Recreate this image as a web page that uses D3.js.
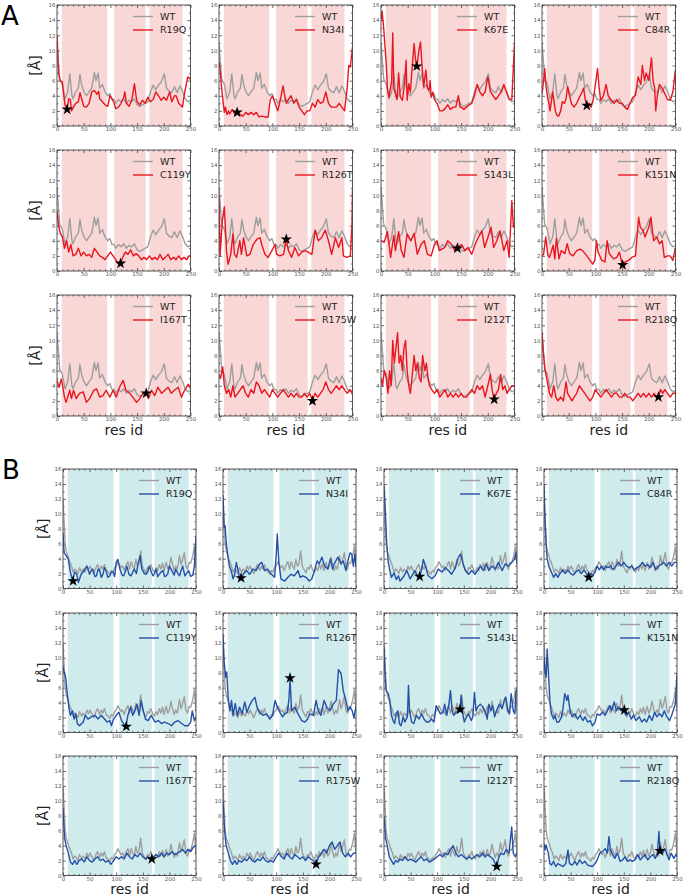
<!DOCTYPE html>
<html>
<head>
<meta charset="utf-8">
<script src="https://cdn.jsdelivr.net/npm/d3@7"></script>
<style>
  body { margin: 0; background: #fff; }
  text { font-family: "DejaVu Sans", sans-serif; }
</style>
</head>
<body>
<div id="fig"></div>
<script>
// mutants shown in each small panel, in reading order
const mutants = ["R19Q", "N34I", "K67E", "C84R", "C119Y", "R126T", "S143L", "K151N", "I167T", "R175W", "I212T", "R218Q"];
const starRes = [19, 34, 67, 84, 119, 126, 143, 151, 167, 175, 212, 218];
const starA = [2.2, 1.8, 7.9, 2.7, 1.0, 4.2, 3.0, 0.8, 3.0, 2.0, 2.2, 2.5];
const starB = [1.0, 1.4, 1.6, 1.5, 0.8, 7.3, 3.1, 3.0, 2.2, 1.5, 1.2, 3.3];

const xTicks = [0, 50, 100, 150, 200, 250];
const yTicks = [0, 2, 4, 6, 8, 10, 12, 14, 16];
const shadeA = [[9, 94], [107, 166], [173, 235]];
const shadeB = [[9, 95], [106, 167], [172, 236]];

// [res id, distance] pairs
const wtA = [[0,11],[5,6.2],[10,5.5],[15,3.6],[20,4.5],[24,6.9],[28,4],[30,3.6],[35,4.5],[40,5],[43,6.8],[46,5.5],[50,4.6],[55,4],[60,4.5],[65,5],[70,7.1],[73,6],[77,7],[80,5],[85,5.5],[90,4.5],[95,4],[99,4.3],[103,3.5],[107,3.5],[110,3],[115,3.5],[120,3.2],[125,3.6],[130,3],[135,3.4],[140,3.2],[145,3.6],[150,2.8],[155,2.6],[160,2.8],[165,3],[170,3.2],[175,4.5],[180,5.4],[185,4.8],[190,5.4],[195,5.8],[201,6.9],[205,5],[210,4.6],[215,4.4],[220,5.2],[225,4.4],[230,5.3],[235,4.6],[240,3.6],[245,3.2],[250,3.4]];

const wtB = [[0,12],[2,9],[4,6],[6,5],[9,4.4],[12,3.7],[16,3],[19,2.2],[22,2.6],[25,2.4],[28,2],[31,2.8],[35,2.2],[38,2.6],[42,2.2],[45,3],[48,2.5],[51,3],[55,2.4],[58,2],[62,2.8],[65,3.2],[69,2.4],[72,3],[75,2.6],[78,3.2],[81,2.4],[85,2.2],[88,1.9],[91,2.4],[94,2.2],[97,2.8],[100,3],[103,3.6],[106,3.2],[109,2.8],[112,3],[115,2.4],[119,3.2],[122,3.6],[125,2.6],[128,3.6],[131,3],[134,2.6],[137,3.9],[140,3],[143,3.4],[146,5],[149,3],[152,2.6],[156,2.1],[159,2.8],[162,2.6],[165,3.2],[169,2.4],[172,2.2],[175,2.8],[178,2.4],[181,3.2],[184,2.6],[187,3.4],[190,2.4],[194,3.5],[197,2.6],[200,3],[203,4.2],[206,3.2],[209,2.4],[212,3],[215,2.6],[219,4.4],[222,3.2],[225,3.9],[228,4.8],[231,3],[234,2.6],[237,3.5],[240,3.4],[244,4.4],[247,5.7],[250,3]];

// panel A mutants (red)
const redR19Q = [[0,12],[3,7],[6,6],[10,5.8],[12,4.5],[15,2.8],[19,2.3],[22,3.6],[25,3.5],[27,2],[30,2.4],[35,3],[40,3.2],[43,4.4],[47,3.4],[50,2.6],[55,2.5],[60,3],[65,4.5],[70,4.7],[75,4.2],[78,4.6],[80,3.6],[85,3.2],[90,2.8],[95,2.6],[99,4],[103,3.6],[107,3],[110,2.3],[115,2.5],[120,3],[125,3.8],[127,4.5],[130,3],[135,2.6],[140,3.4],[145,5.6],[148,4],[150,3.2],[155,2.8],[160,3.4],[165,3],[170,3.8],[175,3.2],[180,3.5],[185,4.5],[190,4],[195,3.4],[200,3.8],[205,3.4],[211,4.5],[215,3.2],[220,4],[223,4],[228,3],[235,2.5],[238,4],[242,5.5],[245,6.5],[250,6.2]];
const redN34I = [[0,8.5],[2,7.5],[5,5],[8,3],[10,1.8],[12,2.5],[15,1.5],[18,2],[20,1.6],[25,2.2],[30,1.5],[34,1.8],[40,1.5],[45,1.3],[50,1.8],[55,1.5],[60,1.8],[65,1.5],[70,1.8],[75,1.2],[80,1.3],[85,1.2],[92,1.2],[96,3.5],[100,4],[105,3],[110,2],[115,3.5],[120,5.3],[123,4],[126,3],[130,3.5],[135,4],[140,3],[145,3.5],[150,2.5],[155,2],[160,1.5],[165,2],[170,2],[175,3],[180,2.5],[185,3.5],[190,3],[195,3.2],[200,4.5],[205,3],[210,2.5],[215,2.5],[220,2.5],[225,3],[230,2.5],[235,2],[240,5],[243,8],[246,7.8],[250,10.5]];
const redK67E = [[0,14],[2,15.2],[5,13],[8,10],[10,8],[12,5],[15,3.8],[17,4.7],[20,6],[22,12.3],[24,5],[27,4.3],[30,3.5],[33,7],[36,3.9],[40,3.4],[43,5],[45,6.5],[47,8.7],[49,3.4],[52,5.6],[55,4.5],[58,7.4],[62,10.9],[65,8.5],[67,7.8],[71,10],[74,11.1],[77,7.8],[80,5.2],[84,7.4],[87,5],[90,4.7],[92,6],[94,3.8],[97,4.5],[100,3.5],[105,3],[110,2],[115,2],[120,2.3],[125,2.8],[130,2.2],[135,2.5],[140,2.5],[145,4],[148,2.5],[150,2.5],[155,2.2],[160,2.5],[165,2.8],[170,3],[175,4],[180,5.5],[185,4.5],[190,4],[195,4.5],[200,6.5],[205,4.5],[210,4],[215,3.5],[220,4],[225,4.5],[230,5.5],[235,4.5],[240,3.5],[245,3.5],[248,8],[250,11]];
const redC84R = [[0,4.2],[3,6],[5,7.6],[8,5],[10,4],[13,3],[15,2],[18,3.5],[20,4.5],[23,3],[25,2],[28,1.4],[31,1.3],[35,2],[38,3.2],[42,3],[45,3.6],[48,5.2],[50,4.5],[55,3],[60,2.5],[65,3],[70,3.8],[75,4.5],[78,5],[81,3.5],[84,2.7],[88,3],[92,2.5],[96,3.5],[100,5.5],[104,7.6],[107,5],[110,3.4],[115,4],[120,5.5],[124,4],[130,3.4],[135,3],[140,3.5],[145,3],[150,3],[155,2.5],[160,2.2],[165,3],[170,3.8],[175,4],[180,6.5],[185,5.5],[188,8],[192,6],[195,7],[200,6],[205,9],[208,6],[211,5],[213,2],[216,4],[220,5.5],[225,5],[230,4.3],[235,3.5],[240,3.4],[245,4.5],[250,7.5]];
const redC119Y = [[0,8],[3,6],[6,5],[10,4.5],[14,3],[18,4],[22,2.5],[26,3.5],[30,2],[35,2.2],[40,3],[45,2],[50,2.5],[55,2],[60,2.2],[65,1.8],[70,3],[75,2.5],[80,2],[85,1.8],[90,1.5],[95,2],[100,2.5],[105,2],[110,1.5],[114,1],[119,1],[123,1.8],[128,2.5],[133,2.2],[138,2.8],[143,2],[148,2.3],[153,2],[158,1.5],[163,1.8],[168,1.5],[173,2],[178,1.5],[183,1.8],[188,1.5],[193,2.2],[198,1.5],[203,1.8],[208,2.2],[213,1.5],[218,1.8],[223,1.5],[228,2],[233,1.5],[238,1.8],[243,1.5],[247,2],[250,2]];
const redR126T = [[0,10],[2,2],[6,6.5],[10,8.5],[14,2.7],[17,0.9],[22,2.2],[26,4.9],[29,2.2],[33,1.8],[39,4],[42,2.2],[46,4.4],[52,2],[58,2.2],[64,3.5],[71,4.2],[77,4.4],[80,3.5],[86,2.2],[92,1.8],[99,2.7],[105,3.5],[108,2.2],[114,2],[121,2.2],[126,4.2],[130,2.7],[136,1.8],[142,3.1],[149,2],[155,2.5],[161,2.7],[167,2.5],[174,2.2],[180,5.4],[186,4],[192,4.4],[199,5.4],[205,4],[211,2.2],[218,4.4],[224,3.1],[230,4.4],[233,2],[239,1.8],[246,2],[249,6.2],[250,11]];
const redS143L = [[0,4],[6,3.8],[12,5.2],[18,1.8],[24,4.7],[27,2.7],[33,5.2],[38,2.7],[43,1.8],[49,4.9],[56,4],[62,5],[68,2.2],[75,3.5],[81,4],[87,2.2],[94,2],[100,3.5],[105,4],[109,2.7],[119,3.1],[125,4],[132,3.5],[138,2.7],[143,3],[151,3.5],[157,2.7],[163,3.1],[170,2.2],[176,3.5],[182,4.4],[189,5.3],[194,3.1],[200,4.4],[206,5.8],[211,3.1],[217,4],[223,5.3],[230,2.7],[236,4],[240,1.8],[245,9.3],[248,5.8],[250,5.8]];
const redK151N = [[0,2],[3,2.2],[7,4.5],[11,2.1],[14,1.8],[21,3.4],[24,1.6],[27,4.3],[32,1.6],[36,2.7],[43,2.3],[47,3.6],[52,2.3],[58,2],[65,2.7],[71,2.9],[76,2.7],[84,2],[90,1.4],[95,0.9],[99,1.4],[102,4],[105,2.5],[112,1.4],[118,1.2],[122,4],[126,2.3],[134,1.6],[140,1.8],[145,2.5],[150,0.9],[156,1.2],[162,1.4],[168,1.8],[175,2],[181,7.1],[184,5.8],[189,5.4],[193,4.5],[200,5.8],[204,7.1],[209,4],[215,4.5],[220,3.6],[225,4],[229,1.8],[235,2],[240,2],[245,1.4],[250,3.1]];
const redI167T = [[0,4.7],[4,3.8],[8,4.9],[11,3.8],[14,2.5],[17,1.8],[24,3.4],[27,2.3],[31,3.4],[36,2.3],[42,3],[49,3.2],[55,1.8],[61,2.3],[69,3.4],[74,3.6],[80,2.5],[86,2.7],[92,3.4],[99,2.5],[105,3.4],[111,2.5],[117,3.8],[124,4.7],[129,3.4],[136,3],[142,2.5],[149,1.8],[155,2.3],[161,3],[167,3],[171,2.3],[177,3.4],[183,2.7],[189,3.8],[196,3],[202,3.4],[208,3.8],[214,3],[220,3.4],[227,3.8],[233,2.5],[239,3.4],[246,4.2],[250,3.6]];
const redR175W = [[0,5.5],[3,5],[7,6.5],[10,4],[14,3],[18,3.5],[22,2.5],[26,4],[30,2.5],[35,3],[40,3.5],[45,4],[50,3],[55,2.5],[60,3.5],[65,3],[70,4.5],[75,4],[80,3],[85,3.5],[90,3],[95,2.5],[100,3.5],[105,3],[110,2.5],[115,3],[120,3.5],[125,3],[130,2.5],[135,3],[140,2.5],[145,3],[150,2.5],[155,2.5],[160,3],[165,2.5],[170,3],[175,2],[180,3],[185,2.5],[190,3],[195,3.5],[200,4.5],[205,3.5],[210,3],[215,3.5],[220,4],[225,3.5],[230,4],[235,3.5],[240,3],[245,3.5],[250,3]];
const redI212T = [[0,5],[3,4],[6,6],[10,5],[13,3],[16,6],[19,4],[22,10],[25,7],[28,9],[31,11],[34,7],[37,8],[40,6],[43,9],[46,10],[49,6],[52,4],[55,3],[58,5],[62,8],[65,6],[68,7],[72,5],[75,4.5],[78,8],[82,6],[85,7],[88,5],[91,4],[95,3.5],[100,3],[105,3.5],[110,2.5],[115,3],[120,3.5],[125,2.5],[130,3],[135,2.5],[140,3],[145,2.5],[150,3],[155,2.5],[160,2.5],[165,3],[170,3.5],[175,3],[180,4],[185,3.5],[190,4],[195,2.5],[200,4],[205,5.5],[208,3.5],[212,2.2],[216,3],[220,3.5],[224,5.5],[228,3.5],[232,4],[236,3],[240,3.5],[245,4],[250,4]];
const redR218Q = [[0,11],[3,8],[6,6],[10,4.5],[14,3],[18,2.5],[22,4],[26,2.5],[30,2],[35,2.5],[40,2],[45,4.5],[48,3],[52,2.5],[56,2],[60,2.5],[65,3],[70,4],[75,3.5],[80,3],[85,2.5],[90,2],[95,2.5],[100,3.5],[105,3],[110,2.5],[115,3],[120,3.5],[125,3],[130,2.5],[135,3],[140,3],[145,2.5],[150,2.5],[155,3],[160,2.5],[165,2.5],[170,2],[175,2.5],[180,3],[185,2.5],[190,3],[195,2.5],[200,3],[205,2.5],[210,3],[214,2.5],[218,2.5],[222,3.5],[226,3],[230,3.5],[235,3],[240,2.5],[245,3],[250,3]];

// panel B mutants (blue)
const blueR19Q = [[0,7.5],[2,4.8],[6,4.4],[10,3.9],[14,2.2],[18,1],[22,2.2],[26,1.9],[29,0.8],[34,1.9],[38,2.2],[41,2.6],[45,3],[50,1.9],[53,2.4],[56,2.6],[60,1.6],[63,1.7],[66,2.6],[69,2.4],[72,1.5],[75,1.9],[78,2.8],[81,2.4],[84,1.5],[88,1.7],[91,2.2],[94,2.2],[97,1.6],[100,3.5],[103,3.9],[107,2.6],[111,1.8],[114,1.7],[117,2.2],[120,3],[124,1.9],[128,1.7],[131,2.2],[134,2.6],[138,2],[141,3.3],[145,4.4],[148,2.6],[150,2.4],[153,2],[156,1.9],[159,2.2],[162,3],[166,2.2],[169,1.7],[172,2],[175,2.6],[178,1.6],[181,1.9],[184,2.2],[188,2.4],[191,1.6],[194,1.7],[197,2],[200,3],[203,2.6],[206,2.2],[209,1.8],[212,2.6],[216,2],[219,1.7],[222,2.4],[225,3],[229,1.7],[232,2],[236,2.4],[240,1.6],[244,1.8],[247,3],[250,7]];
const blueN34I = [[0,12.5],[2,8.2],[4,8.4],[6,6.2],[9,4.4],[12,3],[16,2.2],[19,1.3],[22,1.9],[25,3.5],[28,2.6],[31,1.5],[34,1.4],[38,1.9],[44,2.4],[50,1.9],[56,2.6],[62,2.4],[69,3.3],[73,3.5],[78,2.4],[84,2.6],[91,1.9],[97,1.5],[100,4.4],[102,7.3],[105,3.5],[109,1.3],[116,1],[122,1.5],[128,1.9],[134,1.7],[141,2.4],[145,1.5],[150,1.7],[156,1.5],[162,1],[167,1.3],[172,2.4],[177,3.7],[181,3.3],[186,4.2],[191,3],[197,2.6],[202,4],[206,2.6],[209,3.3],[216,4.2],[222,3.3],[226,3.7],[231,2.4],[234,3.5],[239,4.8],[242,4.6],[245,3],[248,4.6],[250,3]];
const blueK67E = [[0,13.8],[2,11.2],[5,6.2],[8,3.5],[11,2.4],[14,1.5],[19,2.1],[23,1.2],[27,1.7],[30,1],[36,1.5],[43,2.4],[49,1.3],[54,1.9],[58,2.4],[63,1.7],[67,1.6],[71,2.6],[74,3.9],[78,3],[83,1.7],[90,1.3],[96,1.7],[102,2.6],[109,2.2],[115,2.8],[121,2.4],[127,1.9],[134,2.8],[140,4.2],[144,4.6],[148,3.5],[153,2.4],[159,1.9],[165,2.4],[171,1.9],[176,2.4],[181,3],[187,2.4],[192,3.3],[197,2.4],[203,3],[209,2.6],[215,3.5],[222,2.4],[228,3.3],[234,3],[240,3.5],[245,3.9],[248,4.8],[250,3.5]];
const blueC84R = [[0,14],[2,9],[4,6],[6,4],[9,3],[12,2.5],[15,2],[18,1.5],[22,2],[26,1.5],[30,2],[35,2.5],[40,2],[45,2.5],[50,2],[55,1.8],[60,2.2],[65,2.5],[70,2],[75,2.5],[80,2],[84,1.5],[88,2],[92,1.8],[96,2.2],[100,3],[104,2.5],[108,3],[112,2.5],[116,3],[120,2.8],[125,3],[130,2.5],[135,3],[140,3.5],[145,3],[150,3.5],[155,3],[160,2.8],[165,3],[170,2.5],[175,2.8],[180,3],[185,3.5],[190,3],[195,3.2],[200,2.8],[205,3.5],[210,2.5],[215,3],[220,3.2],[225,3.5],[230,3],[235,3.5],[240,3],[245,3.5],[250,3.5]];
const blueC119Y = [[0,8.8],[2,8.1],[5,7.4],[8,5.2],[11,3.4],[14,2.3],[18,2.9],[21,1.8],[24,2.5],[27,1.2],[31,0.9],[38,1.4],[42,2.3],[47,1.8],[53,2.1],[60,2.3],[66,1.8],[72,2.3],[78,1.8],[83,1.4],[88,1.6],[91,0.9],[95,1.8],[100,2.3],[105,2.7],[110,1.6],[114,1.2],[118,0.8],[122,2.3],[127,3.4],[131,2.3],[135,2.9],[139,3.8],[143,2.3],[147,4.3],[151,2.9],[155,1.8],[160,1.6],[166,2.3],[173,1.4],[179,1.6],[185,1.2],[191,1.4],[198,1.2],[204,0.9],[210,1.4],[216,1.6],[223,1.2],[229,0.9],[235,0.9],[240,1.4],[243,2.9],[247,1.6],[250,2]];
const blueR126T = [[0,13.2],[2,9.6],[5,7.4],[7,8.1],[10,4.3],[13,2.9],[16,4.3],[19,2.3],[23,3.9],[27,2.3],[31,3.4],[36,2.5],[41,4.1],[45,2.7],[50,3.6],[55,4.3],[60,4.7],[64,3.4],[69,2.7],[75,2.3],[82,2.5],[88,1.8],[93,2.3],[98,4.3],[102,3.4],[107,2.7],[112,2.1],[116,2.5],[121,2.7],[124,4.5],[126,7.2],[129,2.9],[135,3.4],[141,2.5],[148,1.6],[154,1.4],[159,1.8],[163,2.5],[170,2.3],[175,4.3],[179,2.9],[184,2.3],[190,4.3],[195,3.4],[201,2.9],[207,3.8],[213,4.3],[217,8.4],[222,7.9],[226,5.6],[231,4.3],[235,2.9],[239,3.4],[243,2.9],[246,2],[250,3.4]];
const blueS143L = [[0,11.4],[2,7.9],[4,5.6],[8,5.2],[11,4.3],[14,2.3],[17,1.6],[20,1.2],[23,2.5],[26,2.9],[29,1.2],[32,0.9],[36,2.1],[39,1.4],[44,2.1],[46,6.3],[48,2.9],[52,1.4],[56,1.2],[61,2.3],[66,1.8],[71,2.5],[75,1.8],[80,1.4],[84,1.4],[89,1.8],[94,1.4],[98,3.6],[101,3.2],[106,2.5],[111,2.7],[114,3.8],[118,2.3],[122,3.8],[125,5.6],[128,2.9],[131,2.3],[136,2.7],[141,3.2],[143,3.1],[145,5],[148,2.5],[151,1.4],[155,2.1],[159,2.5],[164,1.6],[167,2.1],[170,5.4],[173,2.9],[176,3.4],[181,3.8],[186,3.4],[191,2.7],[194,1.8],[197,3.8],[201,2.9],[204,3.6],[208,2.1],[213,3.2],[217,3.8],[222,3.2],[226,4.3],[229,4.7],[233,2.9],[236,2.5],[239,5.2],[243,2.9],[246,2.5],[248,5.4],[250,5.8]];
const blueK151N = [[0,10.1],[2,8.1],[4,7.4],[6,11.2],[9,7],[11,4.3],[14,2.5],[18,1.8],[21,2.3],[24,1.4],[28,1.4],[33,2.1],[36,3.4],[39,5.2],[43,4.3],[45,5],[49,2.9],[53,2.1],[58,2.5],[63,1.8],[68,2.3],[73,1.6],[77,2.1],[82,1.4],[87,1.6],[91,0.9],[96,1.4],[100,2.5],[105,2.3],[110,2.7],[115,2.3],[119,2.9],[124,3.6],[127,2.9],[132,4.1],[136,2.9],[140,3.4],[145,2.9],[150,3],[154,2.3],[159,2.7],[164,1.8],[168,2.3],[173,1.6],[179,2.1],[184,1.4],[189,1.8],[193,1.4],[198,2.3],[203,1.6],[208,2.7],[212,2.1],[217,2.5],[222,2.1],[226,2.9],[231,2.1],[236,1.6],[240,2.3],[244,3.2],[247,3.8],[250,7.9]];
const blueI167T = [[0,9],[3,5],[6,4],[10,3],[14,1.8],[18,1.5],[22,2],[26,1.5],[30,2],[35,2.2],[40,1.8],[45,2.5],[50,2],[55,1.8],[60,2.2],[65,2.5],[70,2],[75,2.2],[80,1.8],[85,2],[90,1.5],[95,2],[100,2.5],[105,2.2],[110,2.5],[115,2.2],[120,3],[125,2.5],[130,2.2],[135,2.8],[140,2.5],[145,3],[150,2.5],[155,2.2],[160,2.5],[165,2.2],[170,2.5],[175,2.8],[180,2.5],[185,3],[190,2.5],[195,3],[200,2.8],[205,3.2],[210,2.8],[215,3],[220,3.2],[225,3.5],[230,3],[235,3.5],[240,3.2],[245,3.8],[250,4]];
const blueR175W = [[0,10],[3,6],[6,4],[10,3],[14,2],[18,1.5],[22,2],[26,1.5],[30,2],[35,1.8],[40,2.2],[45,2],[50,2.5],[55,2],[60,1.8],[65,2.2],[70,2],[75,2.5],[80,2],[85,1.8],[90,2],[95,1.8],[100,2.5],[105,3],[110,2.5],[115,2.2],[120,3],[125,2.5],[130,2.2],[135,2.8],[140,2.5],[145,2.2],[150,2.5],[155,2],[160,2.5],[165,2.2],[170,2],[175,1.5],[180,2.5],[185,3],[190,3.5],[195,3],[200,4],[205,4.5],[210,3.5],[215,4],[220,4.5],[225,3],[230,2.5],[235,3],[240,2.5],[245,3],[250,3]];
const blueI212T = [[0,8],[3,5],[6,4],[10,2.5],[14,2],[18,1.5],[22,2],[26,1.8],[30,2.2],[35,2],[40,2.5],[45,2],[50,2.2],[55,2],[60,1.8],[65,2.2],[70,2.5],[75,2],[80,2.2],[85,1.8],[90,2],[95,2.2],[100,2.5],[105,2.8],[110,2.5],[115,3],[120,2.8],[125,3.5],[130,4],[135,3],[140,2.5],[145,2.8],[150,2.5],[155,2.2],[160,2.5],[165,2.2],[170,2.5],[175,2.8],[180,2.5],[185,3],[190,2.5],[195,2.8],[200,2.5],[205,2.2],[212,1.2],[216,2.5],[220,3],[225,2.8],[230,3.5],[235,3],[240,6.5],[243,3],[247,2.5],[250,3]];
const blueR218Q = [[0,4.3],[2,3.4],[4,4.1],[8,3],[11,1.6],[14,1.4],[18,1.9],[22,1.2],[26,1.6],[31,1.4],[36,1.2],[41,1.6],[45,3.4],[48,1.6],[53,1.4],[58,1.9],[62,1.4],[67,2.1],[72,1.6],[77,1.9],[82,1.4],[86,1.3],[91,1.2],[96,1.6],[100,2.1],[105,3],[110,3.2],[115,3.6],[119,3],[122,5.2],[125,3.4],[129,2.8],[133,2.3],[138,3],[143,1.9],[148,2.1],[152,2.5],[157,1.9],[162,2.1],[166,1.9],[171,2.1],[176,2.8],[181,2.1],[186,2.5],[190,2.8],[195,2.1],[200,2.5],[205,2.8],[209,2.3],[213,2.8],[216,5.9],[218,3.4],[223,3],[227,3.6],[231,2.8],[235,2.1],[239,3],[244,2.3],[248,2.8],[250,2.5]];

const seriesA = [redR19Q, redN34I, redK67E, redC84R, redC119Y, redR126T, redS143L, redK151N, redI167T, redR175W, redI212T, redR218Q];
const seriesB = [blueR19Q, blueN34I, blueK67E, blueC84R, blueC119Y, blueR126T, blueS143L, blueK151N, blueI167T, blueR175W, blueI212T, blueR218Q];

// layout of the two blocks
const blockA = { cols: [57, 219, 381, 542], rows: [5, 150, 295], w: 133.5, h: 121,
    shade: "#f9d7d7", line: "#e8161f", wt: wtA, series: seriesA, stars: starA, spans: shadeA,
    ylabX: 35, resY: 435, letter: "A", letterX: 1, letterY: 25 };
const blockB = { cols: [63, 223, 384, 544], rows: [469, 613, 756], w: 133, h: 119.5,
    shade: "#cfebec", line: "#2450a8", wt: wtB, series: seriesB, stars: starB, spans: shadeB,
    ylabX: 43, resY: 894, letter: "B", letterX: 2, letterY: 479 };

const svg = d3.select("#fig").append("svg")
    .attr("width", 683)
    .attr("height", 896);

function styleAxis(sel) {
    sel.select(".domain").remove();
    sel.selectAll("line").attr("stroke", "#444").attr("stroke-width", 0.8);
    sel.selectAll("text").attr("fill", "#555").attr("font-size", "5.5px")
        .attr("font-family", "DejaVu Sans");
}

function drawPanel(block, i) {
    const x0 = block.cols[i % 4];
    const y0 = block.rows[Math.floor(i / 4)];
    const w = block.w, h = block.h;
    const x = d3.scaleLinear().domain([0, 250]).range([x0, x0 + w]);
    const y = d3.scaleLinear().domain([0, 16]).range([y0 + h, y0]);
    const g = svg.append("g");
    const clipId = "clip" + block.letter + i;

    g.append("clipPath").attr("id", clipId)
        .append("rect").attr("x", x0).attr("y", y0).attr("width", w).attr("height", h);

    // shaded domains
    g.selectAll("rect.span")
        .data(block.spans)
        .join("rect")
        .attr("class", "span")
        .attr("x", d => x(d[0]))
        .attr("y", y0)
        .attr("width", d => x(d[1]) - x(d[0]))
        .attr("height", h)
        .attr("fill", block.shade);

    const xMinor = d3.range(0, 251, 10).filter(v => v % 50 !== 0);
    const yMinor = d3.range(1, 16, 2);

    // inward ticks on all four sides
    g.append("g").attr("transform", `translate(0,${y0 + h})`)
        .call(d3.axisBottom(x).tickValues(xTicks).tickSize(-3).tickPadding(1.2))
        .call(styleAxis);
    g.append("g").attr("transform", `translate(0,${y0 + h})`)
        .call(d3.axisBottom(x).tickValues(xMinor).tickSize(-1.5).tickFormat(""))
        .call(styleAxis);
    g.append("g").attr("transform", `translate(0,${y0})`)
        .call(d3.axisTop(x).tickValues(xTicks).tickSize(-3).tickFormat(""))
        .call(styleAxis);
    g.append("g").attr("transform", `translate(0,${y0})`)
        .call(d3.axisTop(x).tickValues(xMinor).tickSize(-1.5).tickFormat(""))
        .call(styleAxis);
    g.append("g").attr("transform", `translate(${x0},0)`)
        .call(d3.axisLeft(y).tickValues(yTicks).tickSize(-3).tickPadding(1.5))
        .call(styleAxis);
    g.append("g").attr("transform", `translate(${x0},0)`)
        .call(d3.axisLeft(y).tickValues(yMinor).tickSize(-1.5).tickFormat(""))
        .call(styleAxis);
    g.append("g").attr("transform", `translate(${x0 + w},0)`)
        .call(d3.axisRight(y).tickValues(yTicks).tickSize(-3).tickFormat(""))
        .call(styleAxis);
    g.append("g").attr("transform", `translate(${x0 + w},0)`)
        .call(d3.axisRight(y).tickValues(yMinor).tickSize(-1.5).tickFormat(""))
        .call(styleAxis);

    const line = d3.line().x(d => x(d[0])).y(d => y(d[1]));
    const lines = g.append("g").attr("clip-path", `url(#${clipId})`);
    lines.append("path").datum(block.wt)
        .attr("d", line).attr("fill", "none")
        .attr("stroke", "#9e9e9e").attr("stroke-width", 1.4)
        .attr("stroke-linejoin", "round");
    lines.append("path").datum(block.series[i])
        .attr("d", line).attr("fill", "none")
        .attr("stroke", block.line).attr("stroke-width", 1.4)
        .attr("stroke-linejoin", "round");

    // mutation site
    g.append("path")
        .attr("d", d3.symbol().type(d3.symbolStar).size(40)())
        .attr("transform", `translate(${x(starRes[i])},${y(block.stars[i])})`)
        .attr("fill", "#000");

    // frame
    g.append("rect").attr("x", x0).attr("y", y0).attr("width", w).attr("height", h)
        .attr("fill", "none").attr("stroke", "#444").attr("stroke-width", 0.9);

    // legend
    const leg = g.append("g");
    [["WT", "#9e9e9e"], [mutants[i], block.line]].forEach((d, k) => {
        const ly = y0 + 11.5 + k * 13.5;
        leg.append("line")
            .attr("x1", x0 + 76).attr("x2", x0 + 96)
            .attr("y1", ly).attr("y2", ly)
            .attr("stroke", d[1]).attr("stroke-width", 1.4);
        leg.append("text")
            .attr("x", x0 + 103).attr("y", ly + 3.4)
            .attr("font-size", "9.5px").attr("fill", "#222")
            .text(d[0]);
    });

    if (i % 4 === 0) {
        svg.append("text")
            .attr("transform", `translate(${block.ylabX},${y0 + h / 2}) rotate(-90)`)
            .attr("text-anchor", "middle")
            .attr("dy", "0.35em")
            .attr("font-size", "14px").attr("fill", "#222")
            .text("[Å]");
    }
    if (i >= 8) {
        svg.append("text")
            .attr("x", x0 + w / 2).attr("y", block.resY)
            .attr("text-anchor", "middle")
            .attr("font-size", "14px").attr("fill", "#222")
            .text("res id");
    }
}

[blockA, blockB].forEach(block => {
    d3.range(12).forEach(i => drawPanel(block, i));
    svg.append("text")
        .attr("x", block.letterX).attr("y", block.letterY)
        .attr("font-size", "26px").attr("fill", "#000")
        .text(block.letter);
});
</script>
</body>
</html>
